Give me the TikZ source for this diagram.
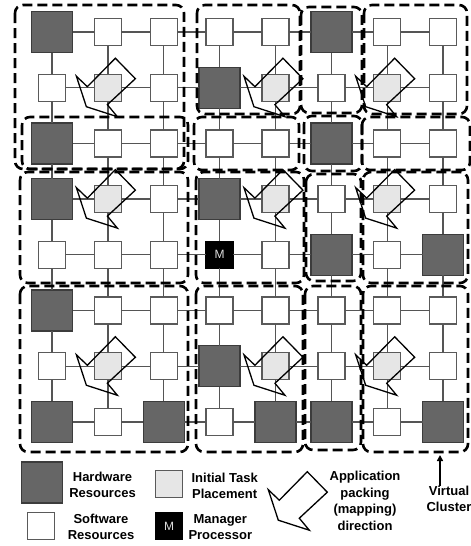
\documentclass[tikz,border=0pt]{standalone}
\usepackage{fontspec}
\setmainfont{Liberation Sans}
\usetikzlibrary{arrows.meta}
\definecolor{hwfill}{HTML}{666666}
\definecolor{hwdraw}{HTML}{3C3C3C}
\definecolor{celldraw}{HTML}{5A5A5A}
\definecolor{linkcol}{HTML}{555555}
\definecolor{taskfill}{HTML}{E6E6E6}
\definecolor{mtext}{HTML}{DDDDDD}
\newcommand\celltxtH{}
\newcommand\celltxtW{}
\newcommand\celltxtG{}
\newcommand\celltxtM{M}
\tikzset{
 cellbase/.style={draw=celldraw, line width=1.4pt, inner sep=0pt, outer sep=0pt, minimum size=27pt},
 cellW/.style={cellbase, fill=white},
 cellG/.style={cellbase, fill=taskfill},
 cellH/.style={cellbase, draw=hwdraw, fill=hwfill, minimum size=41pt},
 cellM/.style={cellbase, draw=black, fill=black, text=mtext, font=\fontsize{12}{12}\selectfont},
 link/.style={draw=linkcol, line width=1.3pt},
 cluster/.style={draw=black, line width=2.6pt, dash pattern=on 10pt off 5pt, rounded corners=8pt},
 packarrow/.pic={\draw[black, line width=1.3pt, line join=miter] (7.5,-29.5) -- (27.5,-9) -- (-0.5,17) -- (9.5,29) -- (-21.5,19) -- (-31.5,-11.5) -- (-20.5,-1) -- cycle;},
 legendtext/.style={align=center, font=\fontsize{13}{16.5}\selectfont\bfseries, inner sep=0pt},
}
\begin{document}
\begin{tikzpicture}[x=1pt,y=-1pt]
\fill[white] (0,0) rectangle (471,546);
\useasboundingbox (0,0) rectangle (471,546);
% grid nodes
\foreach \rowlist [count=\j] in {{H,W,W,W,W,H,W,W},{W,G,W,H,G,W,G,W},{H,W,W,W,W,H,W,W},{H,G,W,H,G,W,G,W},{W,W,W,M,W,H,W,H},{H,W,W,W,W,W,W,W},{W,G,W,H,G,W,G,W},{H,W,H,W,H,H,W,H}}{
  \foreach \t [count=\i] in \rowlist {
    \edef\tmp{\noexpand\node[cell\t] (n-\i-\j) at ({52+55.86*(\i-1)},{32+55.71*(\j-1)}) {\csname celltxt\t\endcsname};}
    \tmp
  }
}
% links
\foreach \j in {1,...,8}{
  \foreach \i [evaluate=\i as \k using int(\i+1)] in {1,...,7}{
    \draw[link] (n-\i-\j) -- (n-\k-\j);
  }
}
\foreach \i in {1,...,8}{
  \foreach \j [evaluate=\j as \k using int(\j+1)] in {1,...,7}{
    \draw[link] (n-\i-\j) -- (n-\i-\k);
  }
}
% packing arrows
\foreach \p in {2-2,5-2,7-2,2-4,5-4,7-4,2-7,5-7,7-7}{
  \pic at (n-\p) {packarrow};
}
% virtual clusters
\foreach \a/\b/\c/\d in {15/5/184/169, 22/117/188/169, 197/5/300/114, 194/117/299/170,
  301/7/362/113, 304/116/362/171, 364/5/467/114, 362/117/470/170,
  20/172/188/283, 196/172/304/283, 306/174/361/281, 363/172/468/283,
  20/286/188/452, 196/286/303/452, 305/286/361/450, 363/286/468/452}{
  \draw[cluster] (\a,\b) rectangle (\c,\d);
}
% legend
\node[cellH] (lhw) at (42,482.5) {};
\node[legendtext] (lhwt) at (102.5,485) {Hardware\\Resources};
\node[cellW] (lsw) at (41,526) {};
\node[legendtext] (lswt) at (101,527) {Software\\Resources};
\node[cellG] (ltask) at (169,484) {};
\node[legendtext] (ltaskt) at (224.7,486) {Initial Task\\Placement};
\node[cellM] (lmgr) at (169,526) {M};
\node[legendtext] (lmgrt) at (220.3,527) {Manager\\Processor};
\pic at (299.8,501.2) {packarrow};
\node[legendtext] (lapp) at (365,501) {Application\\packing\\(mapping)\\direction};
\node[legendtext] (lvc) at (449,499) {Virtual\\Cluster};
\coordinate (vctip) at (440,455);
\draw[line width=1.5pt, -{Triangle[width=6pt,length=6pt]}] (lvc.north -| vctip) -- (vctip);
\end{tikzpicture}
\end{document}
